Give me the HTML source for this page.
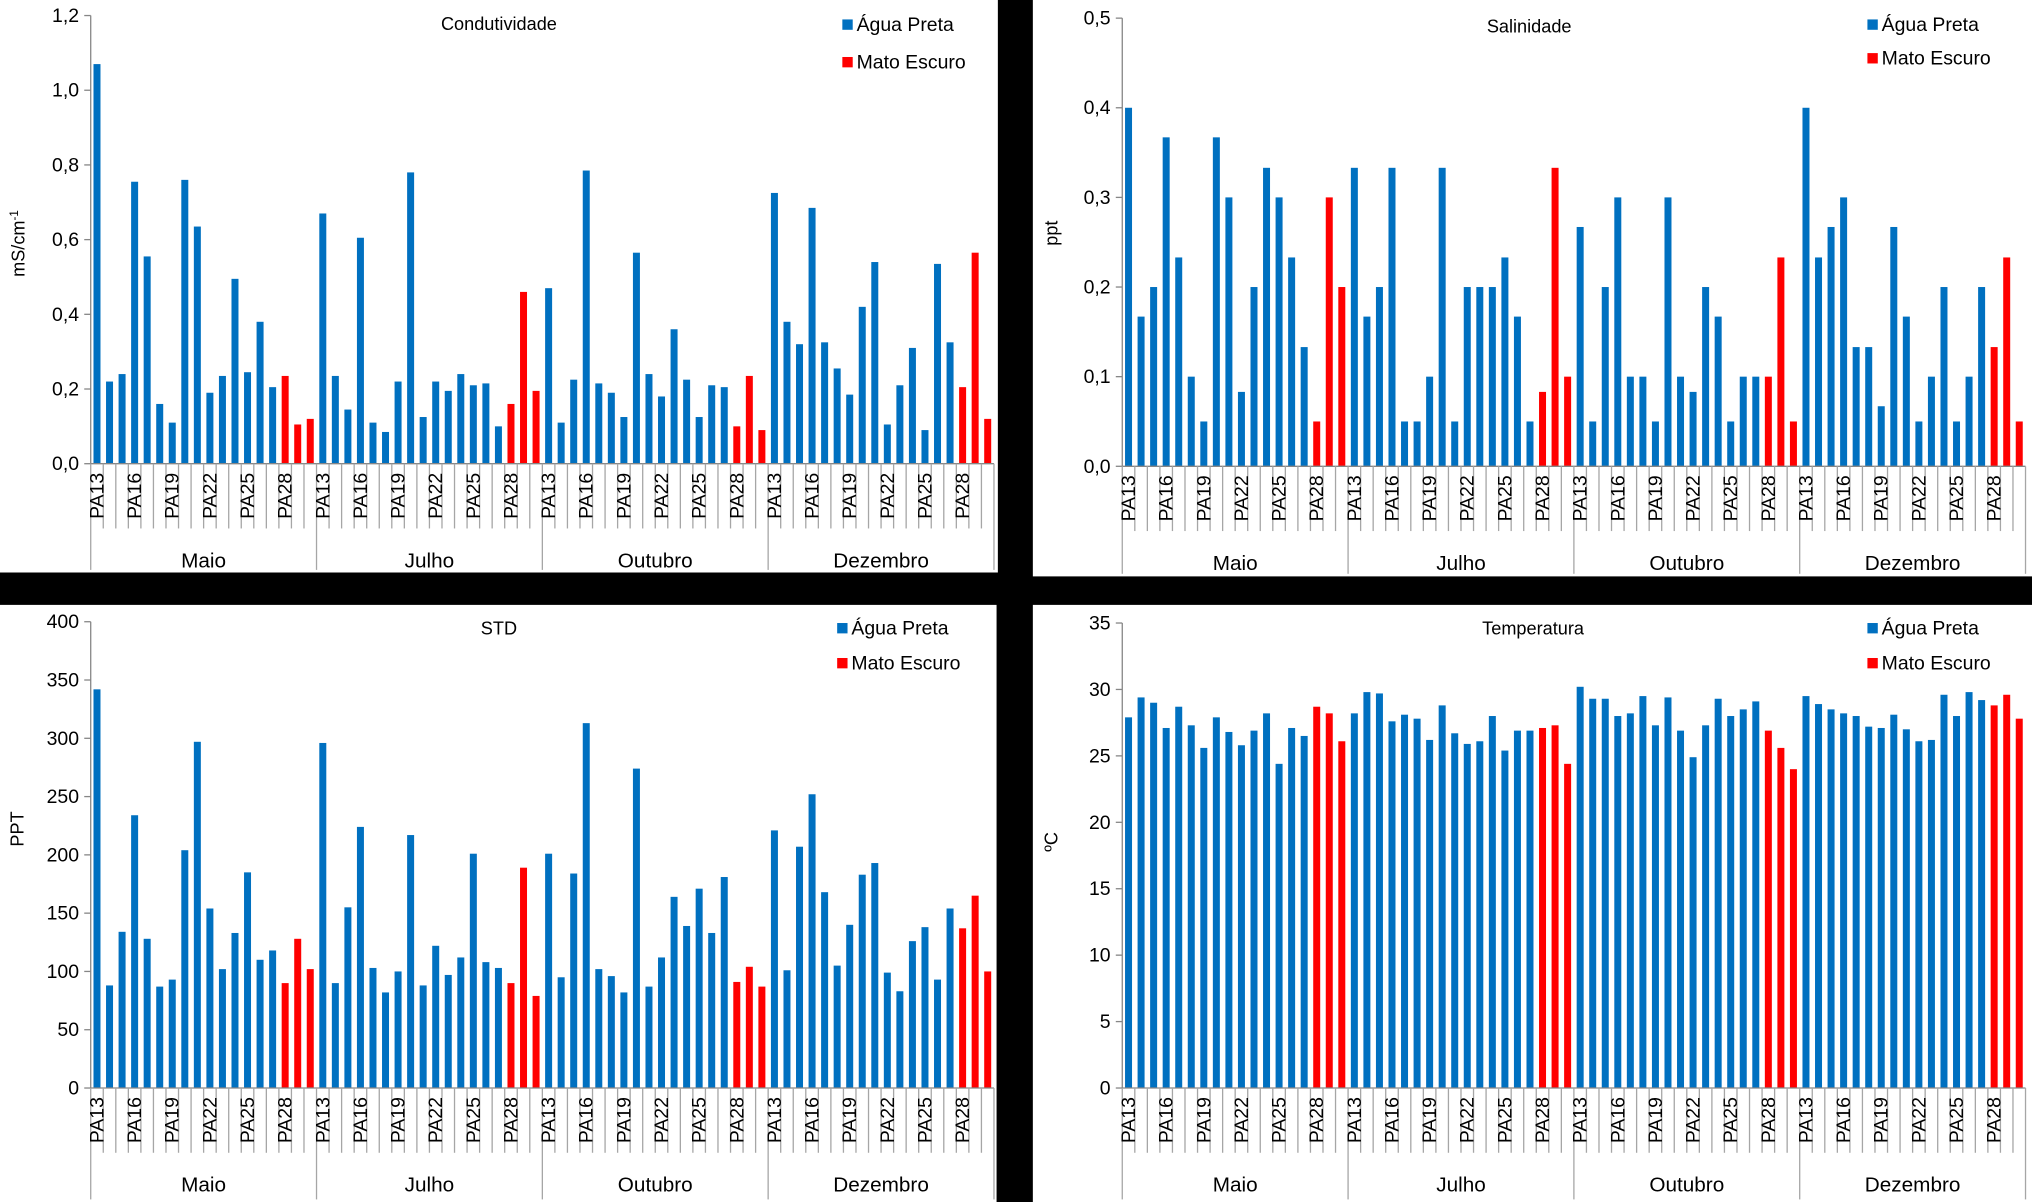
<!DOCTYPE html>
<html><head><meta charset="utf-8"><style>
html,body{margin:0;padding:0;background:#000;}
svg{display:block;}
text{font-family:"Liberation Sans",sans-serif;fill:#000;}
</style></head><body>
<svg id="s" width="2032" height="1202" viewBox="0 0 1568 928" preserveAspectRatio="none" xmlns="http://www.w3.org/2000/svg">
<rect x="0" y="0" width="1568" height="928" fill="#000"/>
</svg>
<script>
const months = ["Maio","Julho","Outubro","Dezembro"];
const stationLabels = ["PA13","","","PA16","","","PA19","","","PA22","","","PA25","","","PA28","",""];
const redIdx = [15,16,17];
const condValues = [
1.07,0.22,0.24,0.755,0.555,0.16,0.11,0.76,0.635,0.19,0.235,0.495,0.245,0.38,0.205,0.235,0.105,0.12,
0.67,0.235,0.145,0.605,0.11,0.085,0.22,0.78,0.125,0.22,0.195,0.24,0.21,0.215,0.10,0.16,0.46,0.195,
0.47,0.11,0.225,0.785,0.215,0.19,0.125,0.565,0.24,0.18,0.36,0.225,0.125,0.21,0.205,0.10,0.235,0.09,
0.725,0.38,0.32,0.685,0.325,0.255,0.185,0.42,0.54,0.105,0.21,0.31,0.09,0.535,0.325,0.205,0.565,0.12];
const condTicks = ["0,0","0,2","0,4","0,6","0,8","1,0","1,2"];
const salValues = [
0.4,0.167,0.2,0.367,0.233,0.1,0.05,0.367,0.3,0.083,0.2,0.333,0.3,0.233,0.133,0.05,0.3,0.2,
0.333,0.167,0.2,0.333,0.05,0.05,0.1,0.333,0.05,0.2,0.2,0.2,0.233,0.167,0.05,0.083,0.333,0.1,
0.267,0.05,0.2,0.3,0.1,0.1,0.05,0.3,0.1,0.083,0.2,0.167,0.05,0.1,0.1,0.1,0.233,0.05,
0.4,0.233,0.267,0.3,0.133,0.133,0.067,0.267,0.167,0.05,0.1,0.2,0.05,0.1,0.2,0.133,0.233,0.05];
const salTicks = ["0,0","0,1","0,2","0,3","0,4","0,5"];
const stdValues = [
342,88,134,234,128,87,93,204,297,154,102,133,185,110,118,90,128,102,
296,90,155,224,103,82,100,217,88,122,97,112,201,108,103,90,189,79,
201,95,184,313,102,96,82,274,87,112,164,139,171,133,181,91,104,87,
221,101,207,252,168,105,140,183,193,99,83,126,138,93,154,137,165,100];
const stdTicks = ["0","50","100","150","200","250","300","350","400"];
const tempValues = [
27.9,29.4,29.0,27.1,28.7,27.3,25.6,27.9,26.8,25.8,26.9,28.2,24.4,27.1,26.5,28.7,28.2,26.1,
28.2,29.8,29.7,27.6,28.1,27.8,26.2,28.8,26.7,25.9,26.1,28.0,25.4,26.9,26.9,27.1,27.3,24.4,
30.2,29.3,29.3,28.0,28.2,29.5,27.3,29.4,26.9,24.9,27.3,29.3,28.0,28.5,29.1,26.9,25.6,24.0,
29.5,28.9,28.5,28.2,28.0,27.2,27.1,28.1,27.0,26.1,26.2,29.6,28.0,29.8,29.2,28.8,29.6,27.8];
const tempTicks = ["0","5","10","15","20","25","30","35"];

const svg = document.getElementById('s');
const NS = "http://www.w3.org/2000/svg";
function mk(tag, attrs, parent, txt){
  const e = document.createElementNS(NS, tag);
  for (const k in attrs) e.setAttribute(k, attrs[k]);
  if (txt !== undefined) e.textContent = txt;
  (parent||svg).appendChild(e);
  return e;
}
function chart(cfg){
  const g = mk('g', {});
  
  
  const bg = mk('rect', {x:cfg.px, y:cfg.py, width:cfg.pw, height:cfg.ph, fill:'#fff'}, g);
  
  
  const n = cfg.values.length, step = (cfg.x1-cfg.x0)/n;
  const yScale = v => cfg.y0 - (v/cfg.max)*(cfg.y0-cfg.yt);
  // y ticks
  const nt = cfg.ticks.length;
  for (let i=0;i<nt;i++){
    const v = cfg.max*i/(nt-1), y = yScale(v);
    mk('line',{x1:cfg.x0-5,x2:cfg.x0,y1:y,y2:y,stroke:'#868686','stroke-width':1},g);
    const t = mk('text',{x:cfg.x0-9,y:y+5,'text-anchor':'end','font-size':15},g,cfg.ticks[i]);
    
    
  }
  mk('line',{x1:cfg.x0,x2:cfg.x0,y1:cfg.yt,y2:cfg.y0,stroke:'#868686','stroke-width':1},g);
  // bars
  for (let i=0;i<n;i++){
    const v = cfg.values[i], cx = cfg.x0 + step*(i+0.5), y = yScale(v);
    const red = redIdx.indexOf(i%18) >= 0;
    const b = mk('rect',{x:cx-2.7,y:y,width:5.4,height:cfg.y0-y,fill:red?'#ff0000':'#0070c0'},g);
    
    
  }
  mk('line',{x1:cfg.x0,x2:cfg.x1,y1:cfg.y0,y2:cfg.y0,stroke:'#868686','stroke-width':1},g);
  // category ticks and labels
  for (let i=0;i<=n;i++){
    const x = cfg.x0+step*i;
    const full = i%18===0;
    mk('line',{x1:x,x2:x,y1:cfg.y0,y2:full?cfg.py+cfg.ph-2:cfg.y0+50,stroke:'#a6a6a6','stroke-width':1},g);
  }
  for (let i=0;i<n;i++){
    const lab = stationLabels[i%18];
    if (!lab) continue;
    const cx = cfg.x0 + step*(i+0.5);
    const t = mk('text',{x:0,y:0,'text-anchor':'end','font-size':15,transform:`translate(${cx+5},${cfg.y0+7}) rotate(-90)`},g,lab);
    
    
  }
  for (let m=0;m<4;m++){
    const cx = cfg.x0 + step*18*(m+0.5);
    const t = mk('text',{x:cx,y:cfg.my,'text-anchor':'middle','font-size':16},g,months[m]);
    
    
  }
  const ti = mk('text',{x:cfg.tx,y:cfg.ty,'text-anchor':'middle','font-size':14},g,cfg.title);
  
  
  const yl = mk('text',{x:0,y:0,'text-anchor':'middle','font-size':14,transform:`translate(${cfg.ylx},${cfg.yly}) rotate(-90)`},g);
  
  
  yl.textContent = cfg.ylab;
  if (cfg.sup){ mk('tspan',{'font-size':9,dy:-5},yl,cfg.sup); }
  const leg = [['Água Preta','#0070c0',cfg.l1],['Mato Escuro','#ff0000',cfg.l2]];
  for (const [txt,col,ly] of leg){
    const lg = mk('g',{},g);
    
    
    mk('rect',{x:cfg.lx,y:ly-4,width:8,height:8,fill:col},lg);
    mk('text',{x:cfg.lx+11,y:ly+5,'font-size':15},lg,txt);
  }
}
chart({name:'condutividade-chart',values:condValues,ticks:condTicks,max:1.2,px:0,py:0,pw:770,ph:442,x0:70,x1:767,yt:12,y0:358,my:438,title:'Condutividade',tx:385,ty:23,ylab:'mS/cm',sup:'-1',ylx:19,yly:188,lx:650,l1:19,l2:48});
chart({name:'salinidade-chart',values:salValues,ticks:salTicks,max:0.5,px:797,py:0,pw:771,ph:445,x0:866,x1:1563,yt:14,y0:360,my:440,title:'Salinidade',tx:1180,ty:25,ylab:'ppt',ylx:816,yly:180,lx:1441,l1:19,l2:45});
chart({name:'std-chart',values:stdValues,ticks:stdTicks,max:400,px:0,py:467,pw:769,ph:461,x0:70,x1:767,yt:480,y0:840,my:920,title:'STD',tx:385,ty:490,ylab:'PPT',ylx:18,yly:640,lx:646,l1:485,l2:512});
chart({name:'temperatura-chart',values:tempValues,ticks:tempTicks,max:35,px:797,py:467,pw:771,ph:461,x0:866,x1:1563,yt:481,y0:840,my:920,title:'Temperatura',tx:1183,ty:490,ylab:'ºC',ylx:816,yly:650,lx:1441,l1:485,l2:512});
</script>
</body></html>
